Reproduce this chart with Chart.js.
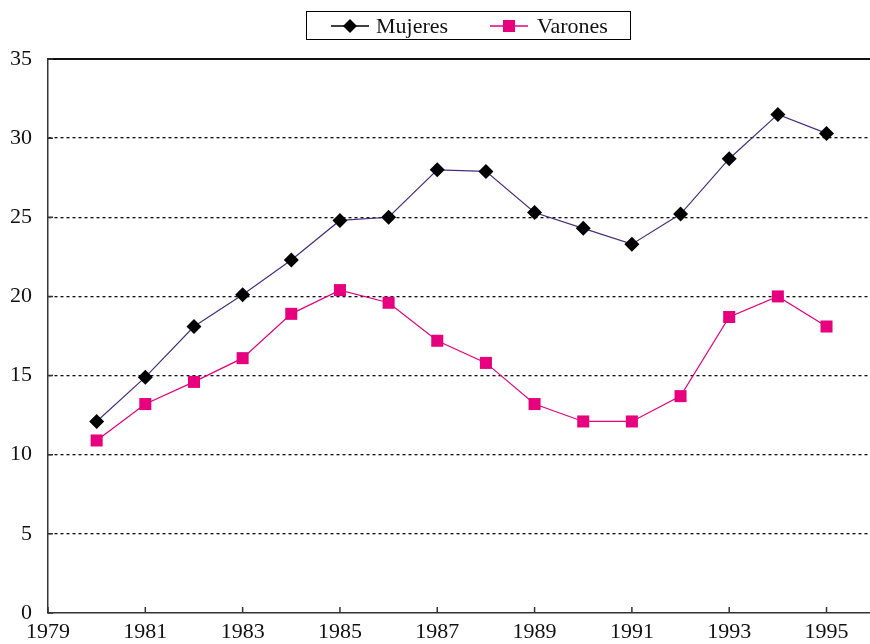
<!DOCTYPE html>
<html>
<head>
<meta charset="utf-8">
<script src="https://cdn.jsdelivr.net/npm/chart.js@4/dist/chart.umd.min.js"></script>
<style>
  html, body { margin: 0; padding: 0; background: #fff; overflow: hidden; }
  #wrap { position: relative; width: 870px; height: 644px; overflow: hidden; }
  #leyenda {
    position: absolute; left: 306px; top: 11px; width: 323px; height: 27px;
    border: 1.5px solid #000; font: 22px "Liberation Serif", serif; color: #111;
  }
  #leyenda .it { position: absolute; top: 0; height: 27px; line-height: 27px; }
  #leyenda svg { position: absolute; top: 6px; }
</style>
</head>
<body>
<div id="wrap">
  <canvas id="grafico" width="890" height="644"></canvas>
  <div id="leyenda">
    <svg style="left:24px" width="38" height="16"><line x1="0" y1="8" x2="38" y2="8" stroke="#000" stroke-width="1.5"/><polygon points="19,1 26,8 19,15 12,8" fill="#000"/></svg>
    <span class="it" style="left:69px">Mujeres</span>
    <svg style="left:183px" width="38" height="16"><line x1="0" y1="8" x2="38" y2="8" stroke="#e6007e" stroke-width="1.5"/><rect x="13" y="2" width="12" height="12" fill="#e6007e"/></svg>
    <span class="it" style="left:230px">Varones</span>
  </div>
</div>
<script>
// Evolución 1980-1995: Mujeres / Varones
const anios = [1980, 1981, 1982, 1983, 1984, 1985, 1986, 1987, 1988, 1989, 1990, 1991, 1992, 1993, 1994, 1995];
const mujeres = [12.1, 14.9, 18.1, 20.1, 22.3, 24.8, 25.0, 28.0, 27.9, 25.3, 24.3, 23.3, 25.2, 28.7, 31.5, 30.3];
const varones = [10.9, 13.2, 14.6, 16.1, 18.9, 20.4, 19.6, 17.2, 15.8, 13.2, 12.1, 12.1, 13.7, 18.7, 20.0, 18.1];
const ticksX = [1979, 1981, 1983, 1985, 1987, 1989, 1991, 1993, 1995];
const ticksY = [0, 5, 10, 15, 20, 25, 30, 35];

const fuente = {family: '"Liberation Serif", serif', size: 22};

// marco superior y marcas hacia adentro
const marco = {
  id: 'marco',
  afterDraw(chart) {
    const c = chart.ctx, a = chart.chartArea;
    const sx = chart.scales.x, sy = chart.scales.y;
    c.save();
    c.strokeStyle = '#111';
    c.lineWidth = 2;
    c.beginPath();
    c.moveTo(a.left, a.top);
    c.lineTo(a.right, a.top);
    c.stroke();
    c.strokeStyle = '#333';
    c.lineWidth = 1.5;
    c.beginPath();
    ticksX.forEach(v => {
      const px = sx.getPixelForValue(v);
      c.moveTo(px, a.bottom);
      c.lineTo(px, a.bottom - 6);
    });
    ticksY.forEach(v => {
      const py = sy.getPixelForValue(v);
      c.moveTo(a.left, py);
      c.lineTo(a.left + 5, py);
    });
    c.stroke();
    c.restore();
  }
};

const ctx = document.getElementById('grafico').getContext('2d');
const chart = new Chart(ctx, {
  type: 'line',
  data: {
    datasets: [{
      label: 'Mujeres',
      data: anios.map((a, i) => ({x: a, y: mujeres[i]})),
      borderColor: '#4b2d7f',
      borderWidth: 1.2,
      pointStyle: 'rectRot',
      pointRadius: 7.5,
      pointBackgroundColor: '#000',
      pointBorderColor: '#000',
      pointBorderWidth: 0,
      tension: 0
    }, {
      label: 'Varones',
      data: anios.map((a, i) => ({x: a, y: varones[i]})),
      borderColor: '#e6007e',
      borderWidth: 1.2,
      pointStyle: 'rect',
      pointRadius: 8.5,
      pointBackgroundColor: '#e6007e',
      pointBorderColor: '#e6007e',
      pointBorderWidth: 0,
      tension: 0
    }]
  },
  options: {
    responsive: false,
    animation: false,
    clip: false,
    layout: {padding: {top: 59, right: 0, left: 0, bottom: 0}},
    plugins: {legend: {display: false}, tooltip: {enabled: false}},
    scales: {
      x: {
        type: 'linear',
        min: 1979,
        max: 1996.13,
        afterBuildTicks: s => { s.ticks = ticksX.map(v => ({value: v})); },
        afterFit: s => { s.height = 31; },
        grid: {display: false, drawTicks: false},
        border: {display: true, color: '#333', width: 1.5},
        ticks: {color: '#111', font: fuente, padding: 6, maxRotation: 0, autoSkip: false,
                callback: v => String(v)}
      },
      y: {
        min: 0,
        max: 35,
        afterBuildTicks: s => { s.ticks = ticksY.map(v => ({value: v})); },
        afterFit: s => { s.width = 48; },
        grid: {
          drawTicks: false,
          color: c => (c.tick && (c.tick.value === 0 || c.tick.value === 35)) ? 'rgba(0,0,0,0)' : '#111',
          lineWidth: 1.3
        },
        border: {display: true, color: '#333', width: 1.5, dash: [3, 3]},
        ticks: {color: '#111', font: fuente, padding: 16}
      }
    }
  },
  plugins: [marco]
});
</script>
</body>
</html>
